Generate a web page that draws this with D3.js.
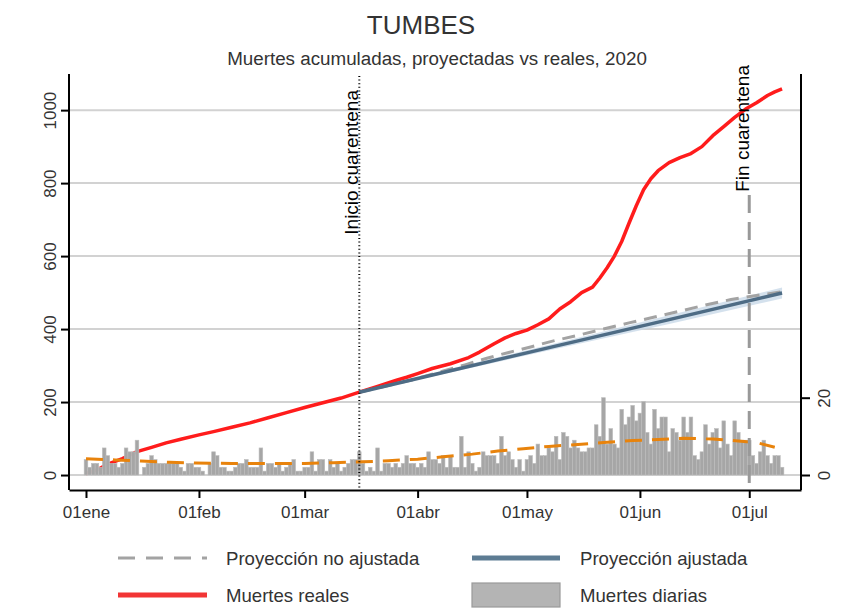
<!DOCTYPE html>
<html>
<meta charset="utf-8">
<head>
  <script src="https://d3js.org/d3.v7.min.js"></script>
  <style>
    body { margin: 0; background: #fff; }
    text { font-family: "Liberation Sans", Arial, sans-serif; fill: #333; }
    .axis path, .axis line { stroke: #000; stroke-width: 2px; }
    .grid { stroke: #d2d2d2; stroke-width: 2px; }
  </style>
</head>
<body>
<div id="chart"></div>

<script type="text/javascript">
  "use strict"

  // daily deaths, one value per day starting 01 Jan 2020 (right axis)
  var dailyJan = [4,2,3,3,2,7,5,3,3,2,3,7,6,6,9,0,2,3,5,4,3,3,3,3,3,3,2,1,3,3,2];
  var dailyFeb = [2,1,0,3,6,5,2,2,1,1,2,3,3,4,2,2,2,7,1,3,3,2,3,1,2,3,4,1,1];
  var dailyMar = [2,2,6,1,4,4,1,4,2,3,1,2,3,4,4,6,3,1,2,1,7,1,3,3,2,3,2,3,5,3,3];
  var dailyApr = [2,3,2,6,4,4,3,5,2,5,2,2,10,2,6,3,1,2,6,5,5,5,3,10,5,6,4,2,4,1];
  var dailyMay = [4,5,3,8,5,5,7,6,10,4,11,10,7,9,7,6,6,7,7,13,10,20,8,12,8,7,17,13,15,18,14];
  var dailyJun = [16,19,11,8,17,12,15,15,6,12,11,9,15,11,15,5,4,6,13,8,11,12,7,14,8,5,14,11,9,9];
  var dailyJul = [9,5,3,6,9,5,3,5,5,2];

  // trend of daily deaths (orange dashed), [day of year, value]
  var trendDays = [0,8,15,23,30,40,50,60,68,76,83,91,98,106,113,120,127,135,142,150,157,164,172,179,184,189];
  var trendVals = [4.2,3.9,3.6,3.3,3.1,3.0,3.0,3.0,3.2,3.4,3.7,4.1,4.7,5.4,6.2,6.8,7.4,7.9,8.4,8.9,9.2,9.5,9.3,8.8,8.4,7.2];

  // muertes reales (cumulative), [day of year, value]
  var realDays = [0,3,6,10,14,18,22,26,31,35,40,45,50,55,60,65,70,75,80,85,88,91,95,100,105,108,112,115,118,121,124,127,130,133,136,139,141,143,145,147,149,151,153,155,157,160,163,166,169,172,175,178,181,184,187,189,191];
  var realVals = [4,14,30,45,64,76,88,98,110,119,131,143,157,171,185,198,211,227,243,259,268,278,292,305,322,337,360,376,388,397,412,428,455,475,500,515,540,568,600,640,690,738,782,812,834,856,870,881,900,930,955,980,1003,1020,1040,1050,1058];

  // proyeccion no ajustada
  var rawDays = [75,90,97,104,110,116,122,128,135,142,149,156,163,170,177,184,191];
  var rawVals = [227,262,282,302,320,336,351,367,383,400,417,433,449,466,481,492,502];

  // proyeccion ajustada + band
  var adjDays = [75,100,130,160,191];
  var adjVals = [227,286,356,426,499];
  var adjLow  = [227,281,348,414,484];
  var adjHigh = [227,291,364,438,514];

  var monthTicks = [0,31,60,91,121,152,182];
  var monthLabels = ["01ene","01feb","01mar","01abr","01may","01jun","01jul"];
  var leftTicks = [0,200,400,600,800,1000];
  var rightTicks = [0,20];
  var quarantineStart = 75, quarantineEnd = 182;

  var daily = [].concat(dailyJan, dailyFeb, dailyMar, dailyApr, dailyMay, dailyJun, dailyJul);

  function day2date(d) { return new Date(Date.UTC(2020,0,1) + d*864e5); }

  var width = 851, height = 610;
  var pl = 69, pr = 801, pt = 74, pb = 490;

  var svg = d3.select("#chart")
      .append("svg")
      .attr("width", width)
      .attr("height", height);

  var x = d3.scaleUtc()
      .domain([day2date(-4.66), day2date(196.2)])
      .range([pl, pr]);
  var y = d3.scaleLinear().domain([-41, 1099]).range([pb, pt]);
  var y2 = d3.scaleLinear().domain([-3.88, 103.75]).range([pb, pt]);

  // title
  svg.append("text").attr("x", 421).attr("y", 34).attr("text-anchor", "middle")
      .style("font-size", "26px").text("TUMBES");
  svg.append("text").attr("x", 437).attr("y", 65).attr("text-anchor", "middle")
      .style("font-size", "18.8px").text("Muertes acumuladas, proyectadas vs reales, 2020");

  // grid
  svg.append("g").selectAll("line").data(leftTicks).enter().append("line")
      .attr("class", "grid")
      .attr("x1", pl).attr("x2", pr)
      .attr("y1", function(d) { return y(d); }).attr("y2", function(d) { return y(d); });

  // band
  var band = adjDays.map(function(d, i) { return {d: d, lo: adjLow[i], hi: adjHigh[i]}; });
  svg.append("path").datum(band)
      .attr("fill", "#c9d9e8").attr("opacity", 0.8)
      .attr("d", d3.area()
        .x(function(p) { return x(day2date(p.d)); })
        .y0(function(p) { return y(p.lo); })
        .y1(function(p) { return y(p.hi); }));

  var line = d3.line()
      .x(function(p) { return x(day2date(p[0])); })
      .y(function(p) { return y(p[1]); });

  // red, under bars
  svg.append("path").datum(d3.zip(realDays, realVals))
      .attr("fill", "none").attr("stroke", "#ff1c1c").attr("stroke-width", 3.5)
      .attr("stroke-linejoin", "round")
      .attr("d", line);

  // bars
  svg.append("g").selectAll("rect").data(daily).enter().append("rect")
      .attr("x", function(d, i) { return x(day2date(i - 0.5)); })
      .attr("width", function(d, i) { return x(day2date(i + 0.5)) - x(day2date(i - 0.5)); })
      .attr("y", function(d) { return y2(d); })
      .attr("height", function(d) { return y2(0) - y2(d); })
      .attr("fill", "#a6a6a6").attr("stroke", "#bcbcbc").attr("stroke-width", 0.6);

  // orange trend
  svg.append("path").datum(d3.zip(trendDays, trendVals))
      .attr("fill", "none").attr("stroke", "#e8830c").attr("stroke-width", 3)
      .attr("stroke-dasharray", "17,10")
      .attr("d", d3.line()
        .x(function(p) { return x(day2date(p[0])); })
        .y(function(p) { return y2(p[1]); }));

  // projections
  svg.append("path").datum(d3.zip(rawDays, rawVals))
      .attr("fill", "none").attr("stroke", "#a3a3a3").attr("stroke-width", 3)
      .attr("stroke-dasharray", "13,8")
      .attr("d", line);
  svg.append("path").datum(d3.zip(adjDays, adjVals))
      .attr("fill", "none").attr("stroke", "#4e6c85").attr("stroke-width", 3.5)
      .attr("d", line);

  // quarantine lines
  var xs = x(day2date(quarantineStart)), xe = x(day2date(quarantineEnd));
  svg.append("line").attr("x1", xs).attr("x2", xs).attr("y1", pt + 2).attr("y2", pb)
      .attr("stroke", "#000").attr("stroke-width", 2).attr("stroke-dasharray", "1,2.6");
  svg.append("line").attr("x1", xe).attr("x2", xe).attr("y1", 195).attr("y2", pb)
      .attr("stroke", "#999").attr("stroke-width", 3).attr("stroke-dasharray", "18,9");
  svg.append("text").attr("transform", "translate(" + (xs - 1) + ",90) rotate(-90)")
      .attr("text-anchor", "end").style("font-size", "19px").style("fill", "#000")
      .text("Inicio cuarentena");
  svg.append("text").attr("transform", "translate(" + xe + ",65) rotate(-90)")
      .attr("text-anchor", "end").style("font-size", "19px").style("fill", "#000")
      .text("Fin cuarentena");

  // axes
  var gx = svg.append("g").attr("class", "axis")
      .attr("transform", "translate(0," + pb + ")")
      .call(d3.axisBottom(x)
        .tickValues(monthTicks.map(day2date))
        .tickFormat(function(d, i) { return monthLabels[i]; })
        .tickSize(8).tickSizeOuter(0).tickPadding(8));
  gx.selectAll("text").style("font-size", "17px").style("fill", "#333");

  var gy = svg.append("g").attr("class", "axis")
      .attr("transform", "translate(" + pl + ",0)")
      .call(d3.axisLeft(y).tickValues(leftTicks).tickFormat(d3.format("d"))
        .tickSize(8).tickSizeOuter(0));
  gy.select(".domain").attr("d", "M0," + pt + "V" + pb);
  gy.selectAll("text")
      .attr("x", 0).attr("y", -13).attr("dy", 0)
      .attr("transform", "rotate(-90)")
      .attr("text-anchor", "middle")
      .style("font-size", "17px").style("fill", "#333");

  var gy2 = svg.append("g").attr("class", "axis")
      .attr("transform", "translate(" + pr + ",0)")
      .call(d3.axisRight(y2).tickValues(rightTicks).tickSize(9).tickSizeOuter(0));
  gy2.select(".domain").attr("d", "M0," + pt + "V" + pb);
  gy2.selectAll("text")
      .attr("x", 0).attr("y", 29).attr("dy", 0)
      .attr("transform", "rotate(-90)")
      .attr("text-anchor", "middle")
      .style("font-size", "17px").style("fill", "#333");

  // legend
  var lg = svg.append("g").style("font-size", "18.6px");
  lg.append("line").attr("x1", 118).attr("x2", 207).attr("y1", 558).attr("y2", 558)
      .attr("stroke", "#a3a3a3").attr("stroke-width", 3).attr("stroke-dasharray", "17,11");
  lg.append("line").attr("x1", 472).attr("x2", 560).attr("y1", 558).attr("y2", 558)
      .attr("stroke", "#5d7c93").attr("stroke-width", 5);
  lg.append("line").attr("x1", 118).attr("x2", 207).attr("y1", 595).attr("y2", 595)
      .attr("stroke", "#f23535").attr("stroke-width", 5);
  lg.append("rect").attr("x", 472).attr("y", 583).attr("width", 88).attr("height", 24)
      .attr("fill", "#b4b4b4").attr("stroke", "#9a9a9a").attr("stroke-width", 1.2);
  var items = [["Proyección no ajustada", 226, 558], ["Proyección ajustada", 580, 558],
               ["Muertes reales", 226, 595], ["Muertes diarias", 580, 595]];
  lg.selectAll("text.lab").data(items).enter().append("text")
      .attr("x", function(d) { return d[1]; })
      .attr("y", function(d) { return d[2]; })
      .attr("dy", "0.35em")
      .text(function(d) { return d[0]; });
</script>
</body>
</html>
